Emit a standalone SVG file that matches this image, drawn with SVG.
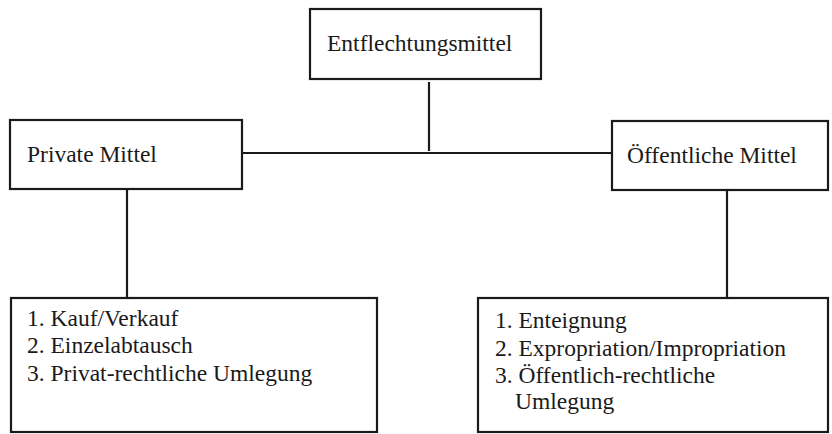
<svg xmlns="http://www.w3.org/2000/svg" width="832" height="434" viewBox="0 0 832 434">
<style>
.box{fill:#fff;stroke:#1a1a1a;stroke-width:2.2}
.ln{stroke:#1a1a1a;stroke-width:2.2;fill:none}
text{font-family:"Liberation Serif","Times New Roman",serif;font-size:23.5px;fill:#1a1a1a}
</style>
<rect width="832" height="434" fill="#fff"/>
<g id="connectors">
<line class="ln" x1="429" y1="82" x2="429" y2="151"/>
<line class="ln" x1="242" y1="153" x2="612" y2="153"/>
<line class="ln" x1="127" y1="190" x2="127" y2="297"/>
<line class="ln" x1="727" y1="191" x2="727" y2="297"/>
</g>
<g id="root">
<rect class="box" x="310" y="9" width="231" height="70"/>
<text x="327" y="51">Entflechtungsmittel</text>
</g>
<g id="private">
<rect class="box" x="10" y="120" width="232" height="69"/>
<text x="27" y="162">Private Mittel</text>
</g>
<g id="public">
<rect class="box" x="612" y="121" width="216" height="69"/>
<text x="627" y="163">Öffentliche Mittel</text>
</g>
<g id="private-list">
<rect class="box" x="11" y="298" width="366" height="134"/>
<text x="27" y="326">1. Kauf/Verkauf</text>
<text x="27" y="353">2. Einzelabtausch</text>
<text x="27" y="381">3. Privat-rechtliche Umlegung</text>
</g>
<g id="public-list">
<rect class="box" x="478" y="298" width="350" height="134"/>
<text x="495" y="328">1. Enteignung</text>
<text x="495" y="356">2. Expropriation/Impropriation</text>
<text x="495" y="383">3. Öffentlich-rechtliche</text>
<text x="515" y="409">Umlegung</text>
</g>
</svg>
